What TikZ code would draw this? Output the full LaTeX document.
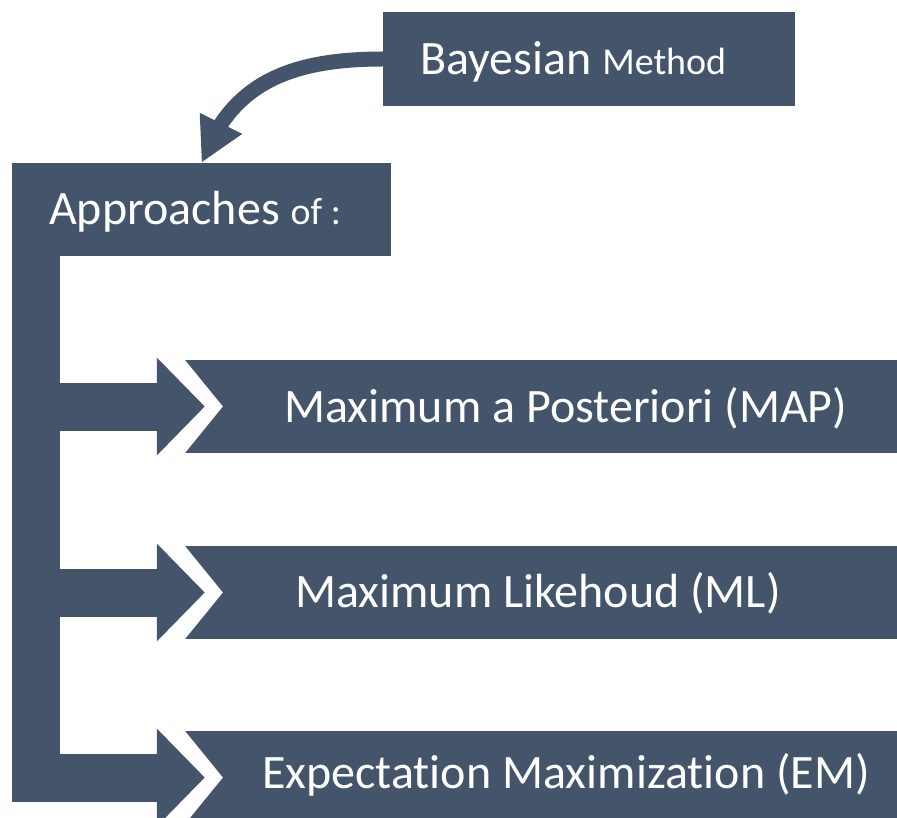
\documentclass[tikz,border=0pt]{standalone}
\usepackage{fontspec}
\setmainfont{Carlito}[Ligatures=NoCommon]
\usetikzlibrary{arrows.meta,bending}
\definecolor{slate}{HTML}{44546A}
\newcommand{\minor}{\fontsize{38}{41}\selectfont}
\tikzset{
  panel/.style={fill=slate, draw=none, inner sep=0pt, rectangle},
  label/.style={text=white, inner sep=0pt, anchor=base west, font=\fontsize{48}{51}\selectfont},
  trunk/.style={draw=slate, line width=48pt, line join=miter,
    -{Triangle[length=48pt, width=95pt]}},
  curved/.style={draw=slate, line width=15pt,
    -{Triangle[length=44pt, width=44pt, flex=1]}},
}
\begin{document}
\begin{tikzpicture}[x=1pt, y=-1pt]
  \clip (0,0) rectangle (897,818);
  \fill[white] (0,0) rectangle (897,818);

  % header boxes
  \node[panel, minimum width=412pt, minimum height=94pt] (bayes) at (589,59) {};
  \node[panel, minimum width=379pt, minimum height=93pt] (appr) at (201.5,209.5) {};
  \node[label] (bayestxt) at (420,75) {Bayesian {\minor Method}};
  \node[label] (apprtxt) at (49,225) {Approaches {\minor of :}};

  % notched option boxes
  \foreach \name/\cy in {map/406.5, ml/592.5, em/777.5} {
    \node[panel, minimum width=712pt, minimum height=93pt] (\name) at (541,\cy) {};
    \fill[white] (\name.north west) -- ([xshift=38pt]\name.west) -- (\name.south west) -- cycle;
    \coordinate (\name tip) at ([xshift=20pt]\name.west);
  }
  \node[label] (maptxt) at (284,422) {Maximum a Posteriori (MAP)};
  \node[label] (mltxt) at (295,607) {Maximum Likehoud (ML)};
  \node[label] (emtxt) at (262,788) {Expectation Maximization (EM)};

  % connectors
  \draw[curved] (bayes.west) .. controls +(-100,0) and +(28,-75) .. (appr.north);
  \foreach \name in {map, ml, em}
    \draw[trunk] ([xshift=24pt]appr.south west) |- (\name tip);
\end{tikzpicture}
\end{document}
